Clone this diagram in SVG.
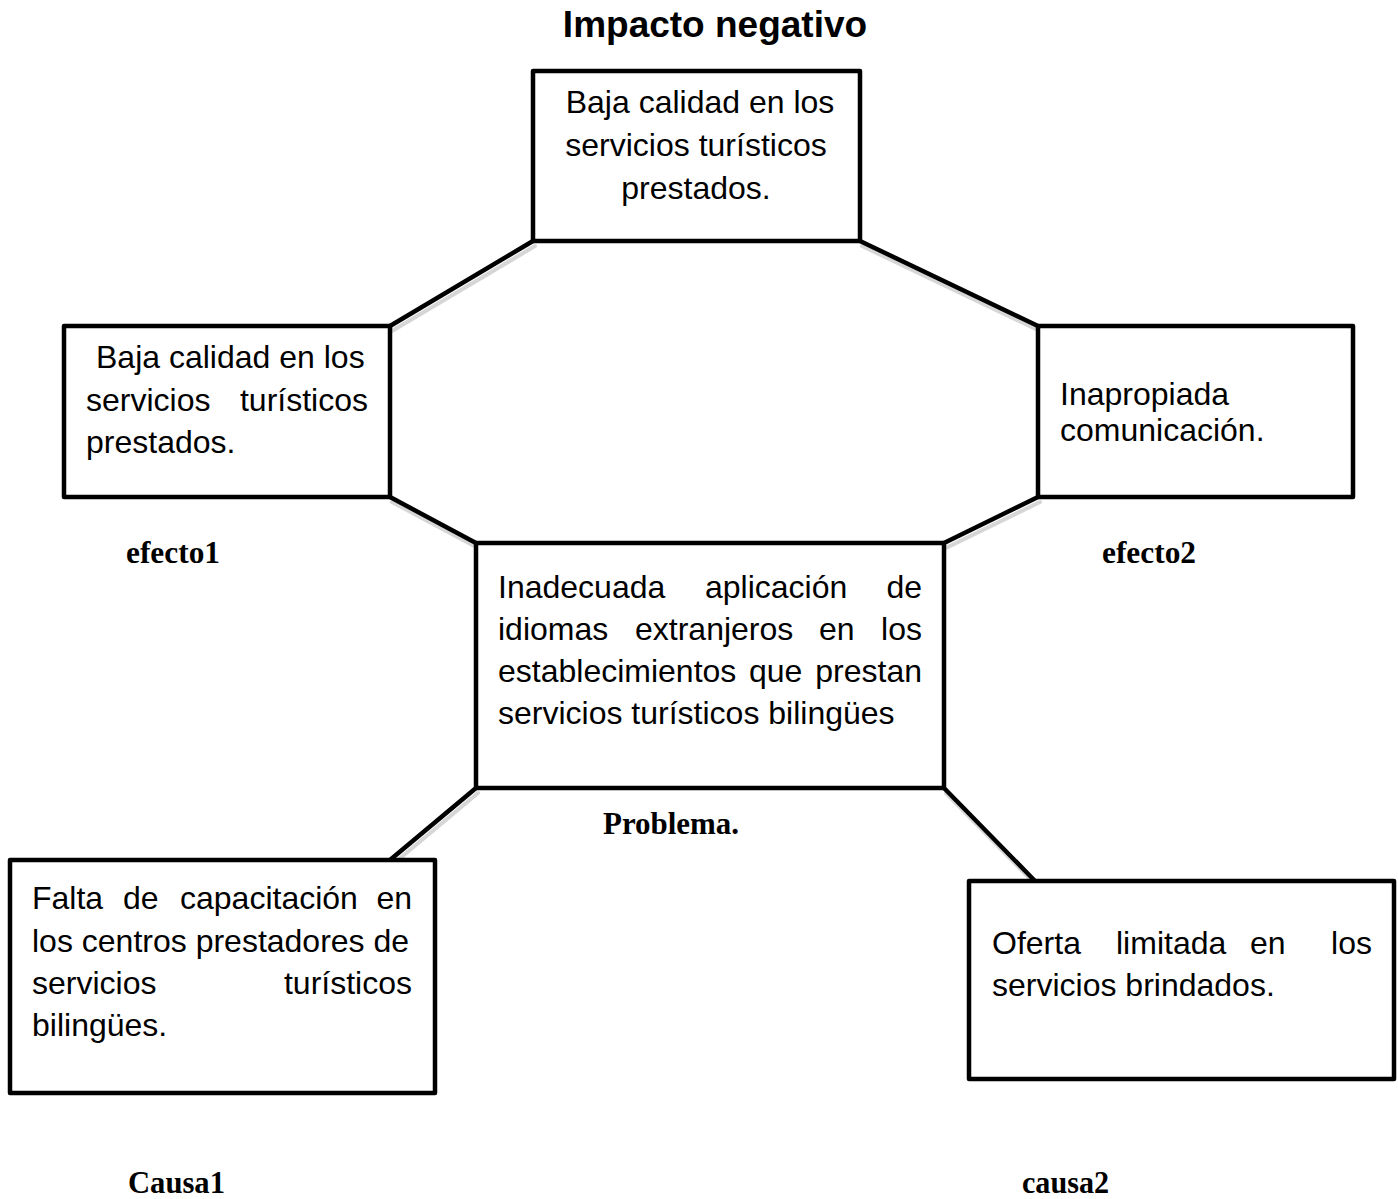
<svg xmlns="http://www.w3.org/2000/svg" width="1398" height="1199" viewBox="0 0 1398 1199">
<style>
.box{fill:#fff;stroke:#000;stroke-width:4.5;stroke-linejoin:round}
.con{stroke:#000;stroke-width:4.5;stroke-linecap:round;fill:none}
.sh{stroke:#bbb;stroke-width:4;stroke-linecap:round;fill:none;opacity:0.6}
.t{font-family:"Liberation Sans",Arial,sans-serif;font-size:32px;fill:#000}
.lbl{font-family:"Liberation Serif","Times New Roman",serif;font-weight:bold;fill:#000}
</style>
<rect width="1398" height="1199" fill="#fff"/>
<text x="715" y="37" text-anchor="middle" style="font-family:'Liberation Sans',Arial,sans-serif;font-weight:bold;font-size:37px">Impacto negativo</text>
<g id="connectors">
<line class="sh" x1="535" y1="246" x2="392" y2="331"/>
<line class="sh" x1="862" y1="246" x2="1040" y2="331"/>
<line class="sh" x1="392" y1="502" x2="478" y2="548"/>
<line class="sh" x1="1040" y1="502" x2="946" y2="548"/>
<line class="sh" x1="478" y1="793" x2="392" y2="865"/>
<line class="sh" x1="946" y1="793" x2="1037" y2="886"/>
<line class="con" x1="533" y1="241" x2="390" y2="326"/>
<line class="con" x1="860" y1="241" x2="1038" y2="326"/>
<line class="con" x1="390" y1="497" x2="476" y2="543"/>
<line class="con" x1="1038" y1="497" x2="944" y2="543"/>
<line class="con" x1="476" y1="788" x2="390" y2="860"/>
<line class="con" x1="944" y1="788" x2="1035" y2="881"/>
</g>
<g id="impacto">
<rect class="box" x="533" y="71" width="327" height="170"/>
<text class="t" text-anchor="middle"><tspan x="700" y="113">Baja calidad en los</tspan><tspan x="696" y="156">servicios turísticos</tspan><tspan x="696" y="199">prestados.</tspan></text>
</g>
<g id="efecto1">
<rect class="box" x="64" y="326" width="326" height="171"/>
<text class="t"><tspan x="96" y="368">Baja calidad en los</tspan></text>
<text class="t"><tspan x="86" y="411">servicios</tspan><tspan x="368" y="411" text-anchor="end">turísticos</tspan></text>
<text class="t"><tspan x="86" y="453">prestados.</tspan></text>
<text class="lbl" x="126" y="563" font-size="31" textLength="94" lengthAdjust="spacingAndGlyphs">efecto1</text>
</g>
<g id="efecto2">
<rect class="box" x="1038" y="326" width="315" height="171"/>
<text class="t"><tspan x="1060" y="405">Inapropiada</tspan><tspan x="1060" y="441">comunicación.</tspan></text>
<text class="lbl" x="1102" y="563" font-size="31" textLength="94" lengthAdjust="spacingAndGlyphs">efecto2</text>
</g>
<g id="problema">
<rect class="box" x="476" y="543" width="468" height="245"/>
<text class="t"><tspan x="498" y="598">Inadecuada</tspan><tspan x="705" y="598">aplicación</tspan><tspan x="922" y="598" text-anchor="end">de</tspan></text>
<text class="t"><tspan x="498" y="640">idiomas</tspan><tspan x="635" y="640">extranjeros</tspan><tspan x="819" y="640">en</tspan><tspan x="922" y="640" text-anchor="end">los</tspan></text>
<text class="t"><tspan x="498" y="682">establecimientos</tspan><tspan x="749" y="682">que</tspan><tspan x="922" y="682" text-anchor="end">prestan</tspan></text>
<text class="t"><tspan x="498" y="724">servicios turísticos bilingües</tspan></text>
<text class="lbl" x="603" y="834" font-size="31" textLength="136" lengthAdjust="spacingAndGlyphs">Problema.</text>
</g>
<g id="causa1">
<rect class="box" x="10" y="860" width="425" height="233"/>
<text class="t"><tspan x="32" y="909">Falta</tspan><tspan x="123" y="909">de</tspan><tspan x="180" y="909">capacitación</tspan><tspan x="412" y="909" text-anchor="end">en</tspan></text>
<text class="t"><tspan x="32" y="952">los centros prestadores de</tspan></text>
<text class="t"><tspan x="32" y="994">servicios</tspan><tspan x="412" y="994" text-anchor="end">turísticos</tspan></text>
<text class="t"><tspan x="32" y="1036">bilingües.</tspan></text>
<text class="lbl" x="128" y="1193" font-size="31" textLength="97" lengthAdjust="spacingAndGlyphs">Causa1</text>
</g>
<g id="causa2">
<rect class="box" x="969" y="881" width="425" height="198"/>
<text class="t"><tspan x="992" y="954">Oferta</tspan><tspan x="1116" y="954">limitada</tspan><tspan x="1250" y="954">en</tspan><tspan x="1372" y="954" text-anchor="end">los</tspan></text>
<text class="t"><tspan x="992" y="996">servicios brindados.</tspan></text>
<text class="lbl" x="1022" y="1193" font-size="31" textLength="87" lengthAdjust="spacingAndGlyphs">causa2</text>
</g>
</svg>
